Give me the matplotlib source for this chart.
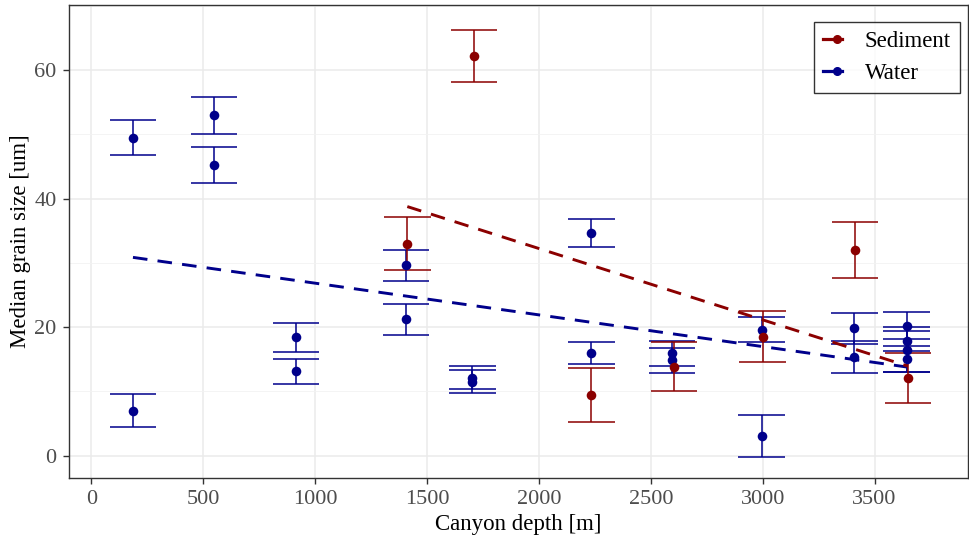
"""Median grain size vs canyon depth, sediment and water samples."""

import numpy as np
import matplotlib.pyplot as plt
from matplotlib.lines import Line2D
from matplotlib.legend_handler import HandlerLine2D

SED_COLOR = "#8B0000"  # darkred
WAT_COLOR = "#00008B"  # darkblue

# Sediment samples
sed_depth = [1412, 1710, 2235, 2604, 3000, 3413, 3649]
sed_size = [33.0, 62.2, 9.35, 13.8, 18.5, 32.0, 12.1]
sed_err = [4.1, 4.1, 4.2, 3.8, 4.0, 4.3, 3.9]

# Water samples
wat_depth = [186, 186, 549, 549, 914, 914, 1406, 1406, 1703, 1703,
             2235, 2235, 2594, 2594, 2996, 2996, 3410, 3410,
             3644, 3644, 3644, 3644]
wat_size = [49.5, 7.0, 53.0, 45.2, 18.4, 13.1, 29.6, 21.2, 12.1, 11.5,
            34.6, 16.0, 15.9, 14.8, 19.6, 3.0, 19.8, 15.3,
            20.2, 17.8, 16.5, 15.0]
wat_err = [2.7, 2.5, 2.9, 2.8, 2.3, 2.0, 2.4, 2.4, 1.8, 1.8,
           2.2, 1.7, 1.9, 1.9, 2.0, 3.3, 2.4, 2.5,
           2.1, 1.6, 3.5, 2.0]

CAP_HALF = 104  # half width of error bar caps, in metres


class RightDotHandler(HandlerLine2D):
    """Legend key with the dot sitting near the right end of the line."""

    def create_artists(self, legend, orig_handle, xdescent, ydescent,
                       width, height, fontsize, trans):
        arts = super().create_artists(legend, orig_handle, xdescent, ydescent,
                                      width, height, fontsize, trans)
        line = arts[0]
        x = line.get_xdata()
        y0 = line.get_ydata()[0]
        line.set_data(np.linspace(x[0], x[-1], 5), np.full(5, y0))
        line.set_markevery([3])
        return arts


def draw_group(ax, depth, size, err, color):
    depth = np.asarray(depth, float)
    size = np.asarray(size, float)
    err = np.asarray(err, float)
    ax.vlines(depth, size - err, size + err, color=color, linewidth=1.1, zorder=3)
    for yy in (size - err, size + err):
        ax.hlines(yy, depth - CAP_HALF, depth + CAP_HALF, color=color,
                  linewidth=1.1, zorder=3)
    ax.scatter(depth, size, s=48, color=color, zorder=4, linewidths=0)
    # linear fit over the data range
    slope, icpt = np.polyfit(depth, size, 1)
    xs = np.array([depth.min(), depth.max()])
    ax.plot(xs, icpt + slope * xs, color=color, linewidth=2.1,
            linestyle=(0, (5, 3.5)), zorder=5)


plt.rcParams["font.family"] = ["Liberation Serif", "DejaVu Serif"]

fig = plt.figure(figsize=(9.7, 5.42), dpi=100)
ax = fig.add_axes([0.0711, 0.1181, 0.9269, 0.8727])

draw_group(ax, wat_depth, wat_size, wat_err, WAT_COLOR)
draw_group(ax, sed_depth, sed_size, sed_err, SED_COLOR)

ax.set_xlim(-100, 3918)
ax.set_ylim(-3.5, 70.15)
ax.set_xticks(np.arange(0, 3501, 500))
ax.set_yticks([0, 20, 40, 60])
ax.set_yticks([10, 30, 50, 70], minor=True)

ax.grid(which="major", color="#EBEBEB", linewidth=1.1)
ax.grid(which="minor", axis="y", color="#F2F2F2", linewidth=0.6)
ax.set_axisbelow(True)

for sp in ax.spines.values():
    sp.set_color("#333333")
    sp.set_linewidth(1.0)

ax.tick_params(axis="both", which="major", labelsize=16, labelcolor="#4D4D4D",
               color="#333333", length=4, width=1.0, pad=5)
ax.tick_params(axis="y", which="minor", length=0)

ax.set_xlabel("Canyon depth [m]", fontsize=16.5, labelpad=3)
ax.set_ylabel("Median grain size [um]", fontsize=16.5, labelpad=2)

handles = [
    Line2D([], [], color=SED_COLOR, linewidth=2.3, marker="o", markersize=5.5),
    Line2D([], [], color=WAT_COLOR, linewidth=2.3, marker="o", markersize=5.5),
]
leg = ax.legend(handles, ["Sediment", "Water"], loc="upper right",
                bbox_to_anchor=(0.991, 0.964), borderaxespad=0,
                fontsize=16.5, frameon=True, fancybox=False,
                edgecolor="black", handlelength=0.8, borderpad=0.4,
                labelspacing=0.45, handletextpad=1.0,
                handler_map={h: RightDotHandler() for h in handles})
leg.get_frame().set_linewidth(1.0)

fig.savefig("out.png", dpi=100)
